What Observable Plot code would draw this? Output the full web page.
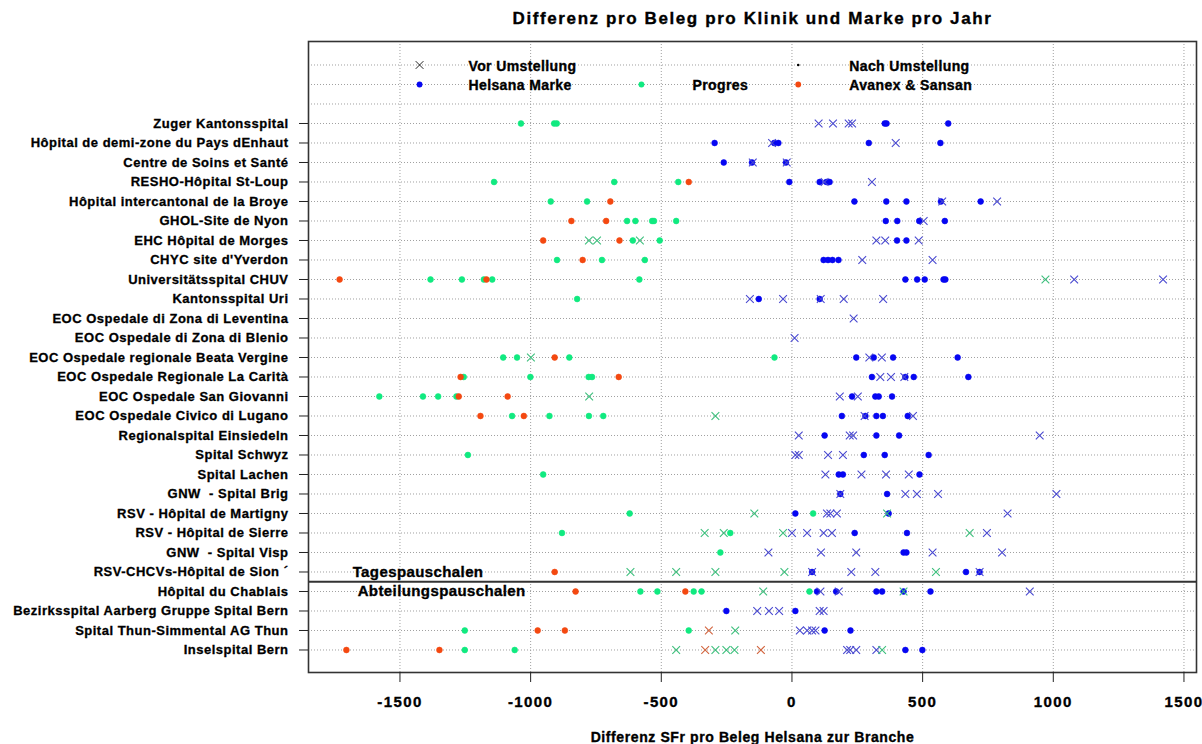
<!DOCTYPE html>
<html><head><meta charset="utf-8">
<script src="https://cdn.jsdelivr.net/npm/d3@7"></script>
<script src="https://cdn.jsdelivr.net/npm/@observablehq/plot@0.6"></script>
<style>
body{margin:0;background:#fff;}
svg{font-family:"Liberation Sans",Arial,sans-serif;}
g[aria-label="x-axis tick label"] text{font-weight:bold;letter-spacing:1.4px;stroke:#000;stroke-width:0.35px;}
g[aria-label="y-axis tick label"] text{font-weight:bold;letter-spacing:0.5px;stroke:#000;stroke-width:0.3px;}
</style>
</head><body><div id="chart"></div>
<script>
const hospitals = [
  "Zuger Kantonsspital",
  "Hôpital de demi-zone du Pays dEnhaut",
  "Centre de Soins et Santé",
  "RESHO-Hôpital St-Loup",
  "Hôpital intercantonal de la Broye",
  "GHOL-Site de Nyon",
  "EHC Hôpital de Morges",
  "CHYC site d'Yverdon",
  "Universitätsspital CHUV",
  "Kantonsspital Uri",
  "EOC Ospedale di Zona di Leventina",
  "EOC Ospedale di Zona di Blenio",
  "EOC Ospedale regionale Beata Vergine",
  "EOC Ospedale Regionale La Carità",
  "EOC Ospedale San Giovanni",
  "EOC Ospedale Civico di Lugano",
  "Regionalspital Einsiedeln",
  "Spital Schwyz",
  "Spital Lachen",
  "GNW  - Spital Brig",
  "RSV - Hôpital de Martigny",
  "RSV - Hôpital de Sierre",
  "GNW  - Spital Visp",
  "RSV-CHCVs-Hôpital de Sion ´",
  "Hôpital du Chablais",
  "Bezirksspital Aarberg Gruppe Spital Bern",
  "Spital Thun-Simmental AG Thun",
  "Inselspital Bern"
];

// values per hospital (same order as hospitals)
const helsanaNach = [
  [355, 362, 598], [-296, -68, -52, 294, 568], [-261, -153, -23], [-10, 106, 132, 144],
  [239, 361, 438, 570, 722], [359, 403, 487, 585], [402, 438], [121, 138, 155, 178],
  [434, 479, 508, 580, 587], [-127, 106], [], [],
  [246, 313, 387, 634], [306, 434, 466, 675], [230, 319, 332, 383], [191, 281, 323, 348, 443],
  [125, 323, 410], [275, 355, 523], [179, 195, 488], [185, 364],
  [13, 370], [240, 440], [427, 438], [77, 666, 718],
  [96, 169, 323, 345, 427, 530], [-251, 13], [125, 224], [434, 499]
];
const helsanaVor = [
  [102, 157, 217, 230], [-76, 397], [-150, -20], [125, 306],
  [575, 785], [504], [323, 357, 485], [269, 538],
  [1080, 1420], [-161, -34, 110, 198, 349], [236], [10],
  [296, 344], [338, 379, 430], [183, 252], [278, 463],
  [26, 221, 234, 948], [13, 26, 138, 195], [128, 266, 360, 447], [185, 434, 478, 559, 1012],
  [134, 147, 172, 825], [0, 58, 121, 153, 746], [-90, 111, 246, 538, 804], [77, 227, 319, 718],
  [109, 179, 910], [-133, -88, -49, 106, 121], [30, 58, 77, 90], [211, 223, 246, 323]
];
const progresNach = [
  [-1037, -910, -900], [], [], [-1140, -680, -435],
  [-923, -784], [-631, -599, -535, -528, -443], [-609, -506], [-899, -727, -563],
  [-1383, -1263, -1179, -1147, -584], [-822], [], [],
  [-1105, -1052, -852, -67], [-1256, -1001, -778, -765], [-1579, -1412, -1354, -1284], [-1071, -928, -777, -722],
  [], [-1240], [-952], [],
  [-621, 81], [-880, -236], [-274], [],
  [-580, -515, -376, -346, 67], [], [-1252, -395], [-1252, -1061]
];
const progresVor = [
  [], [], [], [],
  [], [], [-777, -746, -582], [],
  [970], [], [], [],
  [-999], [], [-776], [-293],
  [], [], [], [],
  [-144, 364], [-334, -261, -34, 680], [], [-618, -443, -293, -29, 551],
  [-110, 427], [], [-217], [-443, -293, -251, -220, 345]
];
const avanexNach = [
  [], [], [], [-395],
  [-695], [-844, -711], [-952, -660], [-801],
  [-1731, -1169], [], [], [],
  [-908], [-1268, -663], [-1275, -1088], [-1192, -1026],
  [], [], [], [],
  [], [], [], [-908],
  [-828, -408], [], [-973, -869], [-1705, -1349]
];
const avanexVor = [
  [], [], [], [],
  [], [], [], [],
  [], [], [], [],
  [], [], [], [],
  [], [], [], [],
  [], [], [], [],
  [], [], [-318], [-332, -119]
];
const xTicks = [-1500, -1000, -500, 0, 500, 1000, 1500];
const legendItems = [
  {label: "Vor Umstellung", x: -1238, row: 0},
  {label: "Nach Umstellung", x: 219, row: 0},
  {label: "Helsana Marke", x: -1238, row: 1},
  {label: "Progres", x: -381, row: 1},
  {label: "Avanex & Sansan", x: 219, row: 1}
];
const groupLabels = [
  {label: "Tagespauschalen", x: -1681, row: 26},
  {label: "Abteilungspauschalen", x: -1662, row: 27}
];
const titleText = "Differenz pro Beleg pro Klinik und Marke pro Jahr";
const xTitleText = "Differenz SFr pro Beleg Helsana zur Branche";

const dotColor = {helsana: "#0606f2", progres: "#10ea80", avanex: "#f44810"};
const crossColor = {helsana: "#4848d0", progres: "#3cbf7c", avanex: "#d2643e"};

const flat = arr => arr.flatMap((vals, i) => vals.map(v => ({row: i + 3, value: v})));

const dotMark = (arr, c) => Plot.dot(flat(arr), {x: "value", y: "row", r: 2.9, fill: c, stroke: c, strokeWidth: 0.6});
const crossMark = (arr, c) => Plot.dot(flat(arr), {x: "value", y: "row", r: 3.6, symbol: "times", stroke: c, strokeWidth: 1.1});

const chart = Plot.plot({
  width: 1202, height: 744,
  marginLeft: 308, marginRight: 6, marginTop: 41, marginBottom: 72,
  style: {fontFamily: "Liberation Sans, Arial, sans-serif", background: "#fff", overflow: "visible"},
  x: {domain: [-1850, 1548]},
  y: {domain: [31.154, -1.205]},
  marks: [
    Plot.ruleY(d3.range(0, 31), {stroke: "#a0a0a0", strokeDasharray: "1,2"}),
    Plot.ruleX(xTicks, {stroke: "#a0a0a0", strokeDasharray: "1,2"}),
    Plot.ruleY([26.5], {stroke: "#333", strokeWidth: 1.8}),
    Plot.frame({stroke: "#333", strokeWidth: 1.6}),
    Plot.axisX({ticks: xTicks, tickSize: 10, tickPadding: 14, fontSize: 15, fontWeight: "bold", label: null, tickFormat: d => String(d), stroke: "#222"}),
    Plot.axisY({ticks: d3.range(3, 31), tickFormat: r => hospitals[r - 3], tickSize: 9, tickPadding: 11, fontSize: 13, fontWeight: "bold", label: null, stroke: "#222"}),
    dotMark(helsanaNach, dotColor.helsana),
    dotMark(progresNach, dotColor.progres),
    dotMark(avanexNach, dotColor.avanex),
    crossMark(helsanaVor, crossColor.helsana),
    crossMark(progresVor, crossColor.progres),
    crossMark(avanexVor, crossColor.avanex),
    // legend symbols
    Plot.dot([{x: -1425, row: 0}], {x: "x", y: "row", r: 3.6, symbol: "times", stroke: "#222", strokeWidth: 1}),
    Plot.dot([{x: 24, row: 0}], {x: "x", y: "row", r: 1.3, fill: "#000"}),
    Plot.dot([{x: -1425, row: 1}], {x: "x", y: "row", r: 2.9, fill: dotColor.helsana}),
    Plot.dot([{x: -576, row: 1}], {x: "x", y: "row", r: 2.9, fill: dotColor.progres}),
    Plot.dot([{x: 24, row: 1}], {x: "x", y: "row", r: 2.9, fill: dotColor.avanex}),
    Plot.text(legendItems, {x: "x", y: "row", text: "label", textAnchor: "start", fontSize: 14, fontWeight: "bold", fill: "#000", dy: 1.5}),
    Plot.text(groupLabels, {x: "x", y: "row", text: "label", textAnchor: "start", fontSize: 15, fontWeight: "bold", fill: "#000"}),
    Plot.text([titleText], {frameAnchor: "top", lineAnchor: "middle", dy: -23, fontSize: 17, fontWeight: "bold", fill: "#000"}),
    Plot.text([xTitleText], {frameAnchor: "bottom", lineAnchor: "middle", dy: 65, fontSize: 14, fontWeight: "bold", fill: "#000"})
  ]
});
// typographic tweaks to mimic the heavier, wider reference lettering
const spacing = new Map([[titleText, 1.6], [xTitleText, 0.6]]);
legendItems.forEach(d => spacing.set(d.label, 0.4));
groupLabels.forEach(d => spacing.set(d.label, 0.4));
d3.select(chart).selectAll("text").each(function() {
  const s = spacing.get(this.textContent);
  if (s !== undefined) {
    this.style.letterSpacing = s + "px";
    this.style.stroke = "#000";
    this.style.strokeWidth = "0.35px";
  }
});
document.getElementById("chart").appendChild(chart);
</script>
</body></html>
